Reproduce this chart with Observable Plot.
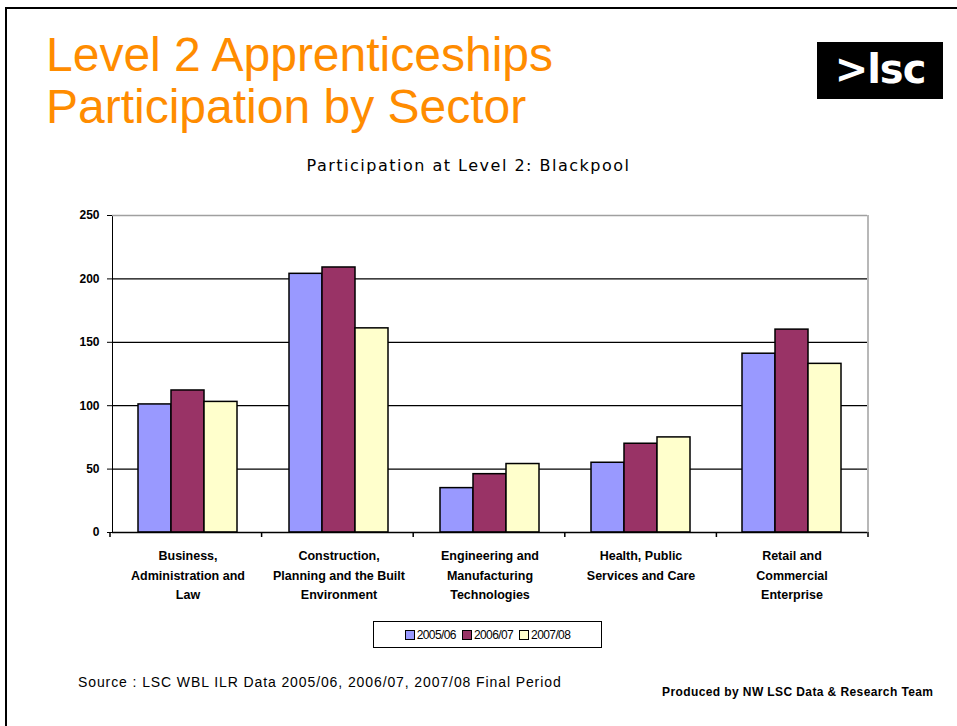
<!DOCTYPE html>
<html>
<head>
<meta charset="utf-8">
<script src="https://cdn.jsdelivr.net/npm/d3@7"></script>
<script src="https://cdn.jsdelivr.net/npm/@observablehq/plot@0.6"></script>
<style>
  html, body { margin: 0; padding: 0; background: #fff; }
  body { width: 957px; height: 726px; position: relative; overflow: hidden; font-family: "Liberation Sans", Arial, sans-serif; }
  #border { position: absolute; left: 5px; top: 7px; width: 1000px; height: 800px; border-left: 2px solid #000; border-top: 2px solid #000; }
  #title { position: absolute; left: 46px; top: 29px; color: #FF8C00; font-size: 48px; line-height: 52px; white-space: nowrap; }
  #logo { position: absolute; left: 817px; top: 42px; width: 126px; height: 57px; background: #000; color: #fff; font-family: "DejaVu Sans", sans-serif; font-weight: bold; font-size: 40px; line-height: 55px; text-align: center; letter-spacing: -1px; }
  #subtitle { position: absolute; left: 0; width: 937px; top: 156px; text-align: center; font-family: "DejaVu Sans", sans-serif; font-size: 16px; letter-spacing: 1.5px; color: #000; }
  #chart { position: absolute; left: 0; top: 200px; }
  #legend { position: absolute; left: 373px; top: 621px; width: 227px; height: 25px; border: 1px solid #000; box-sizing: content-box; display: flex; align-items: center; justify-content: center; gap: 6px; font-size: 12px; letter-spacing: -0.6px; }
  #legend .item { display: flex; align-items: center; gap: 2px; }
  #legend .sw { width: 8px; height: 8px; border: 1px solid #000; display: inline-block; }
  #source { position: absolute; left: 78px; top: 674px; font-size: 14px; letter-spacing: 0.9px; white-space: nowrap; }
  #produced { position: absolute; left: 662px; top: 685px; font-size: 12px; font-weight: bold; letter-spacing: 0.4px; white-space: nowrap; }
</style>
</head>
<body>
<div id="border"></div>
<div id="title">Level 2 Apprenticeships<br>Participation by Sector</div>
<div id="logo">&gt;lsc</div>
<div id="subtitle">Participation at Level 2: Blackpool</div>
<div id="chart"></div>
<div id="legend"></div>
<div id="source">Source : LSC WBL ILR Data 2005/06, 2006/07, 2007/08 Final Period</div>
<div id="produced">Produced by NW LSC Data &amp; Research Team</div>
<script>
// ---- data ----
const sectors = [
  "Business, Administration and Law",
  "Construction, Planning and the Built Environment",
  "Engineering and Manufacturing Technologies",
  "Health, Public Services and Care",
  "Retail and Commercial Enterprise"
];
const sectorLabels = [
  "Business,\nAdministration and\nLaw",
  "Construction,\nPlanning and the Built\nEnvironment",
  "Engineering and\nManufacturing\nTechnologies",
  "Health, Public\nServices and Care",
  "Retail and\nCommercial\nEnterprise"
];
const years = ["2005/06", "2006/07", "2007/08"];
const values0506 = [101, 204, 35, 55, 141];
const values0607 = [112, 209, 46, 70, 160];
const values0708 = [103, 161, 54, 75, 133];
const yTicks = [0, 50, 100, 150, 200, 250];
const colors = ["#9999FF", "#993366", "#FFFFCC"];

const series = [values0506, values0607, values0708];
const rows = [];
sectors.forEach((s, i) => years.forEach((yr, j) => rows.push({sector: s, year: yr, value: series[j][i]})));
const labelRows = sectors.map((s, i) => ({sector: s, label: sectorLabels[i]}));

const W = 957, H = 412;
const chart = Plot.plot({
  width: W,
  height: H,
  marginLeft: 110,
  marginRight: 89,
  marginTop: 15,
  marginBottom: 80,
  style: {background: "transparent", color: "#000"},
  fx: {domain: sectors, padding: 0, axis: null, label: null},
  x: {domain: years, paddingInner: 0, paddingOuter: 0.75, axis: null},
  y: {domain: [0, 250], ticks: yTicks, tickSize: 5, tickPadding: 8, label: null, line: true},
  color: {domain: years, range: colors},
  marks: [
    Plot.ruleY(yTicks.slice(1, -1), {stroke: "#000", strokeWidth: 1.3}),
    Plot.ruleY([250], {stroke: "#a0a0a0", strokeWidth: 1.5}),
    Plot.barY(rows, {fx: "sector", x: "year", y: "value", fill: "year", stroke: "#000", strokeWidth: 1.5, inset: 0}),
    Plot.ruleY([0], {stroke: "#000", strokeWidth: 1.5}),
    Plot.text(labelRows, {
      fx: "sector",
      frameAnchor: "bottom",
      lineAnchor: "top",
      dy: 14,
      lineHeight: 1.55,
      text: "label",
      fontSize: 12.5,
      fontWeight: "bold",
      letterSpacing: "-0.4px"
    })
  ]
});
document.getElementById("chart").appendChild(chart);

// style y tick labels
d3.select(chart).selectAll("[aria-label='y-axis tick label'] text, [aria-label='y-axis'] text")
  .style("font-weight", "bold").style("font-size", "12px");
d3.select(chart).style("font-family", "'Liberation Sans', Arial, sans-serif");

// category boundary ticks and right frame edge, from the library's scales
const fxs = chart.scale("fx");
const ys = chart.scale("y");
const [r0, r1] = fxs.range;
const step = (r1 - r0) / fxs.domain.length;
const yAt = v => ys.range[0] + (v - ys.domain[0]) / (ys.domain[1] - ys.domain[0]) * (ys.range[1] - ys.range[0]);
const g = d3.select(chart).append("g");
d3.range(fxs.domain.length + 1).forEach(i => {
  const x = r0 + i * step;
  g.append("line").attr("x1", x).attr("x2", x).attr("y1", yAt(0)).attr("y2", yAt(0) + 5)
    .attr("stroke", "#000").attr("stroke-width", 1.5);
});
g.append("line").attr("x1", r1).attr("x2", r1).attr("y1", yAt(250)).attr("y2", yAt(0))
  .attr("stroke", "#a0a0a0").attr("stroke-width", 1.5);

// legend
const legend = d3.select("#legend");
years.forEach((yr, i) => {
  const it = legend.append("span").attr("class", "item");
  it.append("span").attr("class", "sw").style("background", colors[i]);
  it.append("span").text(yr);
});
</script>
</body>
</html>
